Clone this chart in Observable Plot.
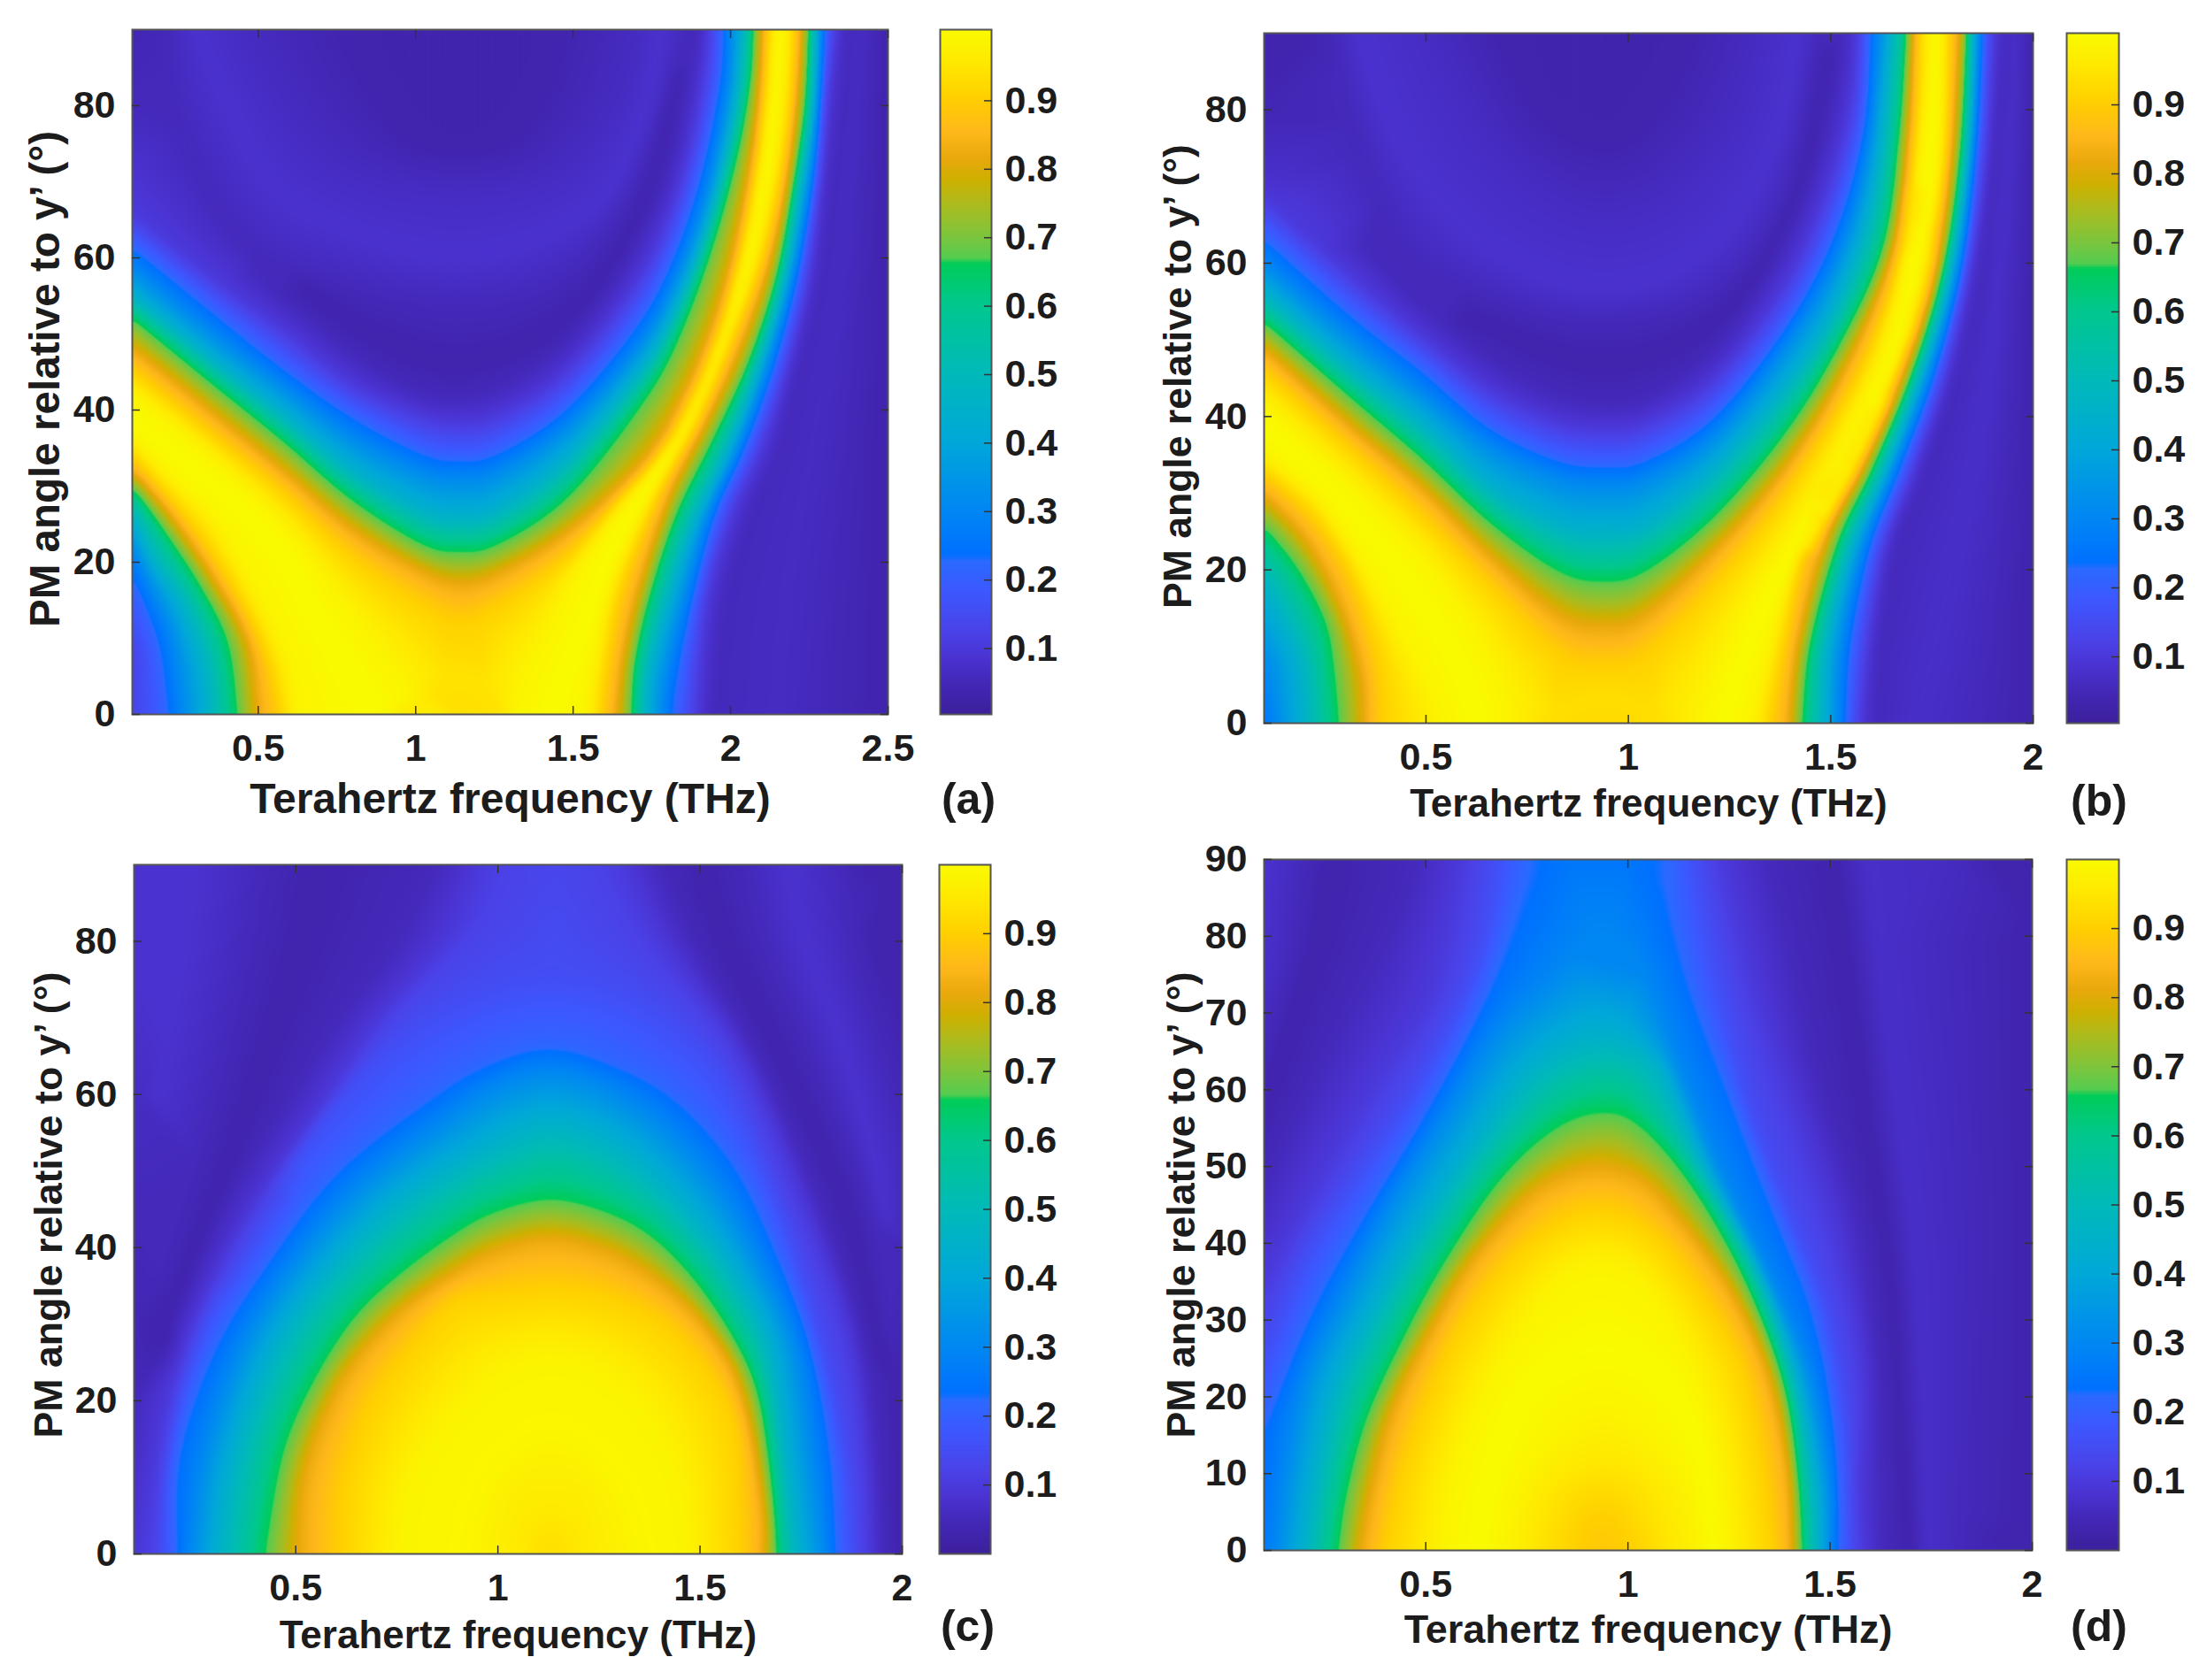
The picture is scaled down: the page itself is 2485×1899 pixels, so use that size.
<!DOCTYPE html>
<html>
<head>
<meta charset="utf-8">
<script src="https://cdn.jsdelivr.net/npm/d3@7"></script>
<script src="https://cdn.jsdelivr.net/npm/@observablehq/plot@0.6"></script>
<style>
html,body{margin:0;padding:0;background:#fff}
#page{position:relative;width:2485px;height:1899px;overflow:hidden}
#page>svg,#page>figure{position:absolute;margin:0}
</style>
</head>
<body>
<div id="page"></div>
<script>
// Colour bar stops
const colorLevels = [0,.04,.08,.12,.18,.222,.232,.3,.4,.5,.6,.657,.665,.70,.74,.78,.81,.85,.9,.95,1];
const colorValues = ["#3d209c","#4226b4","#4a32d0","#4a42e8","#3c58ff","#2a6aff","#0070ff","#0088f2","#00a8d8","#00bab8","#00c88c","#00cc58","#55cc50","#80c43a","#a8bc20","#cfb000","#e8a80c","#ffb81a","#ffd000","#ffe800","#f9fb00"];
const colorbarTicks = [.1,.2,.3,.4,.5,.6,.7,.8,.9];
const xTicksA = [.5,1,1.5,2,2.5];
const xTicksB = [.5,1,1.5,2];
const yTicks20 = [0,20,40,60,80];
const yTicks10 = [0,10,20,30,40,50,60,70,80,90];

// Iso-level traces: [level, [frequency, angle, frequency, angle, ...]]
const traceA = [
[.1,[.1,65.8,.35,57.3,.58,50.3,.8,43.2,1.03,39,1.14,38.3,1.25,39,1.47,44.6,1.7,56.6,1.81,65.8,1.88,75.6,1.92,84.8,1.93,90]],
[.2,[.1,62.2,.35,53.8,.58,46,.8,39.7,1.03,34.7,1.14,34,1.25,34.7,1.47,40.4,1.7,51.7,1.81,60.1,1.9,71.4,1.96,83.4,1.97,90]],
[.3,[.1,58.7,.35,50.3,.58,43.2,.8,36.5,1.03,31.9,1.14,31.2,1.25,31.9,1.47,37.6,1.7,48.1,1.81,55.9,1.92,67.9,1.99,82,2,90]],
[.45,[.1,55,.35,46.7,.58,39.3,.8,31.9,1.03,26.6,1.14,25.9,1.25,26.6,1.47,33,1.7,44.3,1.81,51.7,1.92,63,2.01,78.4,2.04,90]],
[.65,[.1,52.4,.35,43.9,.58,36.2,.8,28.4,1.03,22.4,1.14,21.7,1.25,22.4,1.47,28.4,1.7,40.4,1.81,48.1,1.92,60.1,2.01,72.8,2.06,83.4,2.07,90]],
[.82,[.1,48.1,.35,39.7,.58,31.9,.8,24.2,1.03,18.5,1.14,17.1,1.25,18.2,1.47,23.5,1.7,31.9,1.81,38.3,1.92,48.1,2.01,60.1,2.08,76.3,2.1,90]],
[.9,[.1,45.3,.35,36.9,.58,29.1,.8,20.6,1.03,14.3,1.14,12.2,1.25,14,1.47,20.3,1.65,28.4,1.81,36.2,1.94,47.4,2.03,60.1,2.1,76.3,2.12,90]],
[.98,[.1,42.5,.35,34,.58,25,.75,16,.9,8,1,2,1.02,0]],
[1,[.1,38.3,.35,30.5,.58,21.4,.69,12.9,.8,5.8,.87,0]],
[.98,[.1,36.5,.22,31,.35,26,.47,17.5,.58,8,.62,0]],
[.98,[1.3,0,1.34,5,1.43,12,1.5,18,1.62,25.5,1.72,30.5,1.83,37,1.94,46.5,2.04,60.4,2.11,78,2.14,90]],
[1,[1.43,0,1.52,9.4,1.61,20,1.7,27,1.81,34,1.92,43.2,2.03,56.6,2.1,69.3,2.13,79.9,2.16,90]],
[.98,[1.55,0,1.57,7,1.62,17,1.73,27.5,1.85,36.2,1.96,46.3,2.06,58,2.13,70,2.165,82,2.18,90]],
[.94,[1,0,1.04,3,1.14,5,1.24,3,1.28,0]],
[.93,[1.14,0]],
[.9,[.1,34,.22,28.4,.35,21.4,.47,12.9,.54,5.8,.57,0]],
[.82,[.1,31.9,.22,26.3,.35,18.5,.47,9.4,.5,0]],
[.65,[.1,29.8,.21,23.5,.32,16.4,.4,9.4,.43,0]],
[.45,[.1,26.3,.17,20,.26,14.3,.33,5.8,.34,0]],
[.3,[.1,22.1,.16,16.4,.22,10.8,.25,3.7,.26,0]],
[.2,[.1,17.1,.14,12.9,.18,7.3,.2,0]],
[.12,[.1,0,.1,8]],
[.9,[2.2,90,2.19,79.9,2.15,69.3,2.09,58.7,1.99,48.1,1.89,38.3,1.77,29.1,1.65,16.4,1.61,7.3,1.59,0]],
[.82,[2.23,90,2.21,79.9,2.18,69.3,2.12,58.7,2.03,48.1,1.92,38.3,1.81,29.1,1.71,16.4,1.66,7.3,1.64,0]],
[.65,[2.25,90,2.24,79.9,2.2,69.3,2.15,57.3,2.06,46,1.94,35.5,1.83,26.3,1.75,16.4,1.7,7.3,1.69,0]],
[.45,[2.27,90,2.26,79.9,2.22,68.6,2.17,57.3,2.09,46,1.99,34.7,1.88,24.9,1.8,15,1.74,5.8,1.73,0]],
[.25,[2.29,90,2.28,79.9,2.26,70,2.2,56.6,2.12,44.6,2.03,34.7,1.94,26.3,1.87,15,1.82,5.8,1.8,0]],
[.1,[2.33,90,2.3,79.9,2.28,70,2.24,56.6,2.17,44.6,2.09,34.7,2,26.3,1.92,15,1.89,0]],
[.05,[2.37,90,2.35,79.9,2.32,70,2.28,56.6,2.21,44.6,2.15,34.7,2.06,26.3,1.98,15,1.94,0]],
[.06,[2.15,0,2.2,20,2.28,40,2.35,60,2.42,90]],
[.03,[2.5,0,2.5,30,2.5,60,2.5,90]],
[.03,[.81,90,.9,82,1,76,1.14,74.5,1.28,76,1.38,82,1.43,90]],
[.06,[.44,90,.6,78,.8,71,1.14,68.9,1.45,71,1.65,80,1.72,90]],
[.08,[.3,90,.5,72,.7,65,1.14,60,1.55,66,1.72,78,1.78,90]],
[.05,[.22,90,.25,78,.45,62,.8,56.5,1.14,54.5,1.45,57,1.68,68,1.86,90]],
[.03,[.65,56,.85,50,1.14,46,1.45,51,1.65,61,1.76,72,1.83,84]],
[.05,[.5,58,.6,54,.9,44.5,1.14,41.5,1.4,46,1.6,55,1.75,66,1.82,74,1.87,84,1.9,90]],
[.04,[.1,90]],[.05,[.1,80]],[.08,[.1,72]]
];

const traceB = [
[.1,[.1,68.4,.32,57.9,.49,50.2,.66,43.2,.83,39,.94,38.3,1.04,39,1.21,44.6,1.39,57.2,1.49,69.1,1.55,80.2,1.57,90]],
[.2,[.1,64.2,.32,53.7,.49,46.7,.66,39,.83,34.8,.94,34.1,1.04,34.8,1.21,40.4,1.39,52.3,1.51,64.9,1.58,78.1,1.59,90]],
[.3,[.1,60,.32,50.2,.49,43.2,.66,36.2,.83,32,.94,31.3,1.04,32,1.21,37.6,1.39,49.5,1.52,61.4,1.59,74.7,1.62,90]],
[.45,[.1,56.1,.32,46,.49,39,.66,30.6,.83,25.7,.94,25,1.04,25.7,1.21,32.7,1.39,43.9,1.52,55.1,1.61,69.8,1.65,90]],
[.65,[.1,52.6,.32,42.5,.49,34.8,.66,26.4,.83,20.1,.94,18.9,1.04,20.1,1.21,27.1,1.39,38.3,1.52,49.5,1.63,62.1,1.67,76.8,1.69,90]],
[.82,[.1,48.8,.32,38.3,.49,30.6,.66,21.5,.83,13.8,.94,12.4,1.04,13.8,1.21,22.2,1.39,33.4,1.54,46.7,1.65,61.4,1.69,76.8,1.7,90]],
[.9,[.1,46,.32,35.5,.49,27.1,.66,18,.83,8.9,.94,7.5,1.04,8.9,1.21,18,1.39,29.9,1.58,46.7,1.68,62.1,1.71,76.8,1.72,90]],
[.98,[.1,42,.32,31,.49,22,.6,14,.68,6,.7,0]],
[1,[.1,38.3,.23,32.7,.37,24.3,.51,14.5,.59,6.9,.63,0]],
[.98,[.1,35,.23,29.5,.32,22.5,.42,13,.5,5,.54,0]],
[.98,[1.18,0,1.21,6,1.3,16,1.4,24.5,1.54,38,1.65,53,1.73,80,1.74,90]],
[1,[1.23,0,1.27,6.9,1.37,18.7,1.47,27.8,1.61,41.1,1.7,54.4,1.75,73.3,1.76,90]],
[.98,[1.31,0,1.34,8,1.41,20.5,1.51,29.5,1.63,42.5,1.72,56,1.77,73,1.78,90]],
[.93,[.8,0,.85,2.5,.94,3.5,1.03,2.5,1.08,0]],
[.92,[.94,0]],
[.9,[1.79,90,1.78,73.3,1.73,58.6,1.65,45.3,1.54,34.1,1.44,24.3,1.39,11.7,1.35,0]],
[.82,[1.82,90,1.8,73.3,1.76,58.6,1.68,45.3,1.58,33.4,1.49,24.3,1.42,10.3,1.4,0]],
[.65,[1.84,90,1.82,73.3,1.78,59.3,1.7,45.3,1.6,32.7,1.52,23.6,1.45,10.3,1.43,0]],
[.45,[1.85,90,1.84,74.7,1.79,57.9,1.72,45.3,1.63,32.7,1.55,22.9,1.49,10.3,1.48,0]],
[.25,[1.87,90,1.85,73.3,1.82,59.3,1.75,45.3,1.66,32.7,1.59,22.9,1.54,10.3,1.53,0]],
[.1,[1.9,90,1.88,73.3,1.84,59.3,1.78,45.3,1.7,32.7,1.63,22.9,1.59,10.3,1.57,0]],
[.05,[1.93,90,1.9,73.3,1.87,59.3,1.81,45.3,1.73,32.7,1.66,22.9,1.62,10.3,1.61,0]],
[.07,[1.71,0,1.82,24.3,1.89,45.3,1.94,73.3,1.96,90]],
[.03,[2,0,2,30,2,60,2,90]],
[.9,[.1,32.7,.23,26.4,.32,18.7,.38,8.2,.39,0]],
[.82,[.1,29.9,.2,24.3,.28,16.6,.34,6.9,.35,0]],
[.65,[.1,25.4,.18,20.1,.25,13.1,.27,6.2,.28,0]],
[.45,[.1,18,.14,13.8,.19,7.5,.2,0]],
[.3,[.1,8.2,.13,0]],
[.25,[.1,0]],
[.03,[.7,90,.8,80,.94,76.4,1.04,80,1.14,90]],
[.06,[.51,90,.65,76,.8,69,.94,66.3,1.1,69,1.26,78,1.33,90]],
[.08,[.33,90,.45,74,.65,62,.94,56.5,1.2,62,1.36,75,1.42,90]],
[.05,[.28,90,.32,78,.45,62,.7,55,.94,53,1.2,56,1.38,68,1.47,90]],
[.03,[.6,53,.94,47,1.25,54,1.42,70,1.49,87]],
[.05,[.35,62,.5,54,.68,46.5,.83,42.5,.94,41.5,1.05,42.5,1.22,49,1.38,62,1.47,74,1.52,85,1.53,90]],
[.03,[.1,90,.18,90]],[.04,[.1,80]],[.07,[.1,72]]
];

const traceC = [
[.96,[1.03,0,1.06,7.1,1.13,7.8,1.2,7.1,1.24,0]],
[.99,[.9,0,.96,10.6,1.13,16.9,1.31,10.6,1.38,0]],
[.98,[.75,0,.78,9.2,.87,16.9,.99,23.2,1.13,26,1.27,23.2,1.38,17.6,1.45,9.2,1.47,0]],
[.93,[1.13,0]],
[.9,[.61,0,.62,9.2,.68,19,.78,26.7,.89,33,.99,34,1.13,34.7,1.27,33.7,1.41,30.2,1.52,23.9,1.59,16.2,1.6,5.7,1.6,0]],
[.82,[.51,0,.52,9.2,.57,17.6,.64,24.6,.76,31.6,.89,36.5,.99,39.3,1.13,41,1.27,39.3,1.38,36.1,1.48,31.6,1.57,25.3,1.62,17.6,1.66,5.7,1.66,0]],
[.65,[.42,0,.43,3.6,.47,14.1,.54,22.5,.64,30.9,.75,36.5,.89,42,.99,44.9,1.13,46.6,1.27,44.9,1.38,41.8,1.48,36.5,1.57,29.5,1.64,21.8,1.67,12.7,1.69,0]],
[.45,[.31,0,.35,12.7,.45,26.7,.59,37.2,.75,45.6,.96,52.5,1.13,56,1.31,52.5,1.48,44,1.6,35,1.67,26.7,1.71,12.7,1.74,0]],
[.3,[.24,0,.27,12.7,.36,26.7,.5,38.6,.66,48.4,.85,56,.99,61,1.13,63,1.27,61,1.41,56,1.55,47.6,1.66,37,1.74,26.7,1.78,12.7,1.81,0]],
[.21,[.2,0,.2,12.7,.29,26.7,.43,38.6,.59,49.8,.8,58.8,.96,64,1.13,66.5,1.31,63.7,1.45,59.5,1.59,51.2,1.69,40,1.78,26.7,1.83,12.7,1.84,0]],
[.15,[.17,0,.18,10,.22,22,.33,38,.48,51,.68,64,.9,72,1.13,75.5,1.36,72,1.56,62,1.7,45,1.8,27,1.86,12,1.88,0]],
[.12,[.15,0,.19,18,.28,32,.43,47,.6,60,.76,72,.95,82,1.03,90]],
[.12,[1.24,90,1.34,80,1.56,66,1.72,46,1.84,28,1.89,12,1.9,0]],
[.13,[1.08,90,1.13,90,1.2,90]],
[.1,[.12,0,.17,16,.25,30,.4,45,.55,57,.7,69,.88,80,.96,90]],
[.1,[1.31,90,1.4,80,1.6,65,1.76,45,1.87,28,1.91,12,1.92,0]],
[.05,[.2,30,.33,45.6,.47,58,.6,69,.75,80,.85,90]],
[.05,[1.4,90,1.48,80,1.64,65,1.8,45,1.9,28,1.94,12,1.95,0]],
[.03,[.55,90,.5,78,.36,55,.24,38,.18,28]],
[.05,[.41,90,.36,75,.27,55,.17,38]],
[.08,[.26,90,.23,78,.16,60]],
[.09,[.1,0]],[.07,[.1,10]],[.05,[.1,20]],[.04,[.1,30]],[.05,[.1,45]],[.06,[.1,60]],[.08,[.1,75,.1,90]],
[.03,[1.5,90,1.56,80,1.7,65,1.86,45,1.94,28]],
[.05,[1.62,90,1.66,80,1.78,65,1.92,45,1.97,30]],
[.08,[1.72,90,1.76,80,1.86,65,1.96,45]],
[.05,[1.85,90,1.88,78,1.95,65,2,55]],
[.03,[1.92,90,2,90]],[.03,[1.95,78,2,72]],[.03,[2,0,2,20]],
[.05,[2,40]]
];

const traceD = [
[.65,[.28,0,.3,7.3,.35,17.1,.44,27.5,.54,37.3,.68,48.5,.82,55.4,.94,57.5,1.04,55.4,1.18,46.4,1.3,34.5,1.39,21.3,1.42,8.7,1.43,0]],
[.82,[.34,0,.37,8.7,.42,18.5,.51,28.2,.61,37.3,.75,45.7,.85,48.8,.94,49.5,1.04,47.8,1.16,40.8,1.27,32.4,1.35,22.7,1.4,10.8,1.41,0]],
[.9,[.4,0,.44,10.1,.51,20.6,.59,29.6,.71,38,.83,42.9,.94,44.3,1.06,41.5,1.16,35.2,1.27,25.5,1.32,15.7,1.35,5.2,1.36,0]],
[.98,[.54,0,.56,8.7,.63,19.2,.73,28.2,.83,35.2,.94,37.3,1.04,34.5,1.14,26.2,1.21,15.7,1.24,5.2,1.25,0]],
[1,[.63,0,.68,13.6,.78,22.7,.94,26.2,1.09,22.7,1.18,13.6,1.21,0]],
[.98,[.7,0,.75,10.1,.94,17.8,1.13,10.1,1.18,0]],
[.94,[.78,0,.83,7.3,.94,10.1,1.04,7.3,1.09,0]],
[.9,[.87,0,.9,3.8,.94,5.2,.97,3.8,1.01,0]],
[.88,[.94,0]],
[.45,[.2,0,.23,10.1,.28,21.3,.37,31,.49,42.2,.63,53.3,.76,62.4,.9,66.6,.94,66.6,1,66,1.08,62.4,1.18,50.6,1.32,36.6,1.41,22.7,1.46,8.7,1.47,0]],
[.3,[.13,0,.15,10.1,.2,22.7,.28,31.7,.4,44.3,.54,56.1,.68,68,.82,75,.94,79.9,1.04,75,1.13,62.4,1.23,49,1.35,35.2,1.45,22.7,1.5,8.7,1.5,0]],
[.22,[.75,90,.73,85.4,.64,71.5,.49,56.1,.35,43.6,.23,32.4,.13,19.9,.1,15.7]],
[.22,[1.1,90,1.11,84,1.16,72.9,1.27,57.5,1.37,43.6,1.46,31,1.51,15.7,1.52,0]],
[.25,[.85,90,.94,90,1,90]],
[.26,[.1,0]],[.24,[.1,8]],
[.15,[.1,25.5,.21,39.4,.35,50.6,.49,61.7,.63,77.1,.67,90]],
[.15,[1.17,90,1.21,78.5,1.3,57.5,1.4,43.6,1.49,31,1.54,15.7,1.55,0]],
[.1,[.1,34.5,.23,47.1,.38,61,.51,71.5,.57,84,.59,90]],
[.1,[1.23,90,1.27,81.2,1.33,69.4,1.42,56.1,1.52,39.4,1.58,22.7,1.57,8.7,1.58,0]],
[.05,[.1,47.8,.2,58.9,.32,71.5,.44,84,.47,90]],
[.05,[1.35,90,1.4,78.5,1.47,61,1.57,43.6,1.62,22.7,1.63,0]],
[.03,[.26,90,.23,79.9,.14,64.5,.1,57.7]],
[.03,[1.51,90,1.54,78.5,1.59,57.5,1.65,36.6,1.68,15.7,1.7,0]],
[.07,[1.59,90,1.65,64.5,1.71,36.6,1.74,0]],
[.08,[.1,90]],[.07,[.1,75]],
[.06,[1.78,90]],[.05,[1.85,40,1.82,0]],
[.03,[1.92,90,2,90,2,45,2,0,1.93,0]]
];

const names = ["(a)","(b)","(c)","(d)"];
const xLabel = "Terahertz frequency (THz)";
const yLabel = "PM angle relative to y\u2019 (\u00b0)";

const colorScale = {type:"linear", domain:colorLevels, range:colorValues, clamp:true};
const FONT = "'Liberation Sans', Arial, sans-serif";

function samples(trace){
  const out = [];
  trace.forEach(([level, pts], t) => {
    for (let i = 0; i < pts.length; i += 2) out.push({f:pts[i], a:pts[i+1], v:level, t});
  });
  return out;
}

// Field reconstruction for the raster: an iso-level trace stays on its own level
// between its read points, so the triangulation is kept from cutting across traces.
function isoField(rows, blur){
  return (index, width, height, X, Y, V) => {
    const xs = [], ys = [], vs = [];
    const step = 10;
    const byTrace = d3.groups(Array.from(index), i => rows[i].t);
    for (const [, ids] of byTrace) {
      for (let k = 0; k < ids.length; k++) {
        const i1 = ids[k];
        xs.push(X[i1]); ys.push(Y[i1]); vs.push(V[i1]);
        if (k === ids.length - 1) break;
        const i0 = ids[Math.max(k-1,0)], i2 = ids[k+1], i3 = ids[Math.min(k+2,ids.length-1)];
        const d = Math.hypot(X[i2]-X[i1], Y[i2]-Y[i1]);
        const n = Math.floor(d/step);
        for (let j = 1; j < n; j++) {
          const s = j/n, s2 = s*s, s3 = s2*s;
          const cr = (a,b,c,e) => .5*(2*b + (c-a)*s + (2*a-5*b+4*c-e)*s2 + (3*b-a-3*c+e)*s3);
          xs.push(cr(X[i0],X[i1],X[i2],X[i3]));
          ys.push(cr(Y[i0],Y[i1],Y[i2],Y[i3]));
          vs.push(V[i1]);
        }
      }
    }
    const out = Plot.interpolatorBarycentric()(d3.range(xs.length), width, height, Float64Array.from(xs), Float64Array.from(ys), Float64Array.from(vs));
    if (blur > 0 && d3.blur2) d3.blur2({data:out, width, height}, blur);
    return out;
  };
}

function place(svg, left, top){
  svg.style.left = left + "px";
  svg.style.top = top + "px";
  document.getElementById("page").appendChild(svg);
}

const tickStyle = {stroke:"#333", strokeWidth:1.5, fontSize:43, fontWeight:"bold", color:"#1c1c1c", fill:"#1c1c1c", tickSize:-9, label:null};

function heat(o){
  const ml = 140, mt = 6, mb = 130, mr = 40;
  const w = o.x1 - o.x0, h = o.y1 - o.y0;
  const rows = samples(o.trace);
  const svg = Plot.plot({
    width:w+ml+mr, height:h+mt+mb,
    marginLeft:ml, marginRight:mr, marginTop:mt, marginBottom:mb,
    style:{background:"transparent", fontFamily:FONT, overflow:"visible"},
    x:{domain:o.xd, axis:null}, y:{domain:[0,90], axis:null},
    color:colorScale,
    marks:[
      Plot.raster(rows, {x:"f", y:"a", fill:"v", interpolate:isoField(rows, 5), x1:o.xd[0], x2:o.xd[1], y1:0, y2:90}),
      Plot.frame({stroke:"#555", strokeWidth:2}),
      Plot.axisX({...tickStyle, anchor:"bottom", ticks:o.xt, tickFormat:d=>String(d), tickPadding:o.xpad+9}),
      Plot.axisX({...tickStyle, anchor:"top", ticks:o.xt, tickFormat:()=>"", tickPadding:0}),
      Plot.axisY({...tickStyle, anchor:"left", ticks:o.yt, tickFormat:d=>String(d), tickPadding:28}),
      Plot.axisY({...tickStyle, anchor:"right", ticks:o.yt, tickFormat:()=>"", tickPadding:0}),
      Plot.text([xLabel], {text:d=>d, frameAnchor:"bottom", lineAnchor:"middle", dy:o.xly, dx:o.xlx||0, fontSize:o.xfs, fontWeight:"bold", fill:"#1c1c1c"}),
      Plot.text([yLabel], {text:d=>d, frameAnchor:"left", textAnchor:"middle", lineAnchor:"middle", rotate:-90, dx:o.ylx, dy:o.yly, fontSize:o.yfs, fontWeight:"bold", fill:"#1c1c1c"})
    ]
  });
  place(svg, o.x0-ml, o.y0-mt);
}

function bar(o){
  const ml = 6, mt = 6, mb = 130, mr = 100;
  const w = o.x1 - o.x0, h = o.y1 - o.y0;
  const ramp = d3.range(0, 1, .002);
  const svg = Plot.plot({
    width:w+ml+mr, height:h+mt+mb,
    marginLeft:ml, marginRight:mr, marginTop:mt, marginBottom:mb,
    style:{background:"transparent", fontFamily:FONT, overflow:"visible"},
    x:{domain:[0,1], axis:null}, y:{domain:[0,1], axis:null},
    color:colorScale,
    marks:[
      Plot.rect(ramp, {x1:0, x2:1, y1:d=>d, y2:d=>d+.0025, fill:d=>d, shapeRendering:"crispEdges"}),
      Plot.frame({stroke:"#555", strokeWidth:2}),
      Plot.axisY({...tickStyle, anchor:"right", ticks:colorbarTicks, tickFormat:d=>d.toFixed(1), tickPadding:24, dy:o.tdy||0}),
      Plot.text([o.name], {text:d=>d, frameAnchor:"bottom", lineAnchor:"middle", dy:o.ny, dx:o.nx, fontSize:50, fontWeight:"bold", fill:"#1c1c1c"})
    ]
  });
  place(svg, o.x0-ml, o.y0-mt);
}

heat({trace:traceA, x0:149, x1:1003, y0:33, y1:807, xd:[.1,2.5], xt:xTicksA, yt:yTicks20, xpad:22, xly:96, xfs:48, ylx:-98, yly:8, yfs:47.6});
heat({trace:traceB, x0:1428, x1:2297, y0:37, y1:817, xd:[.1,2], xt:xTicksB, yt:yTicks20, xpad:22, xly:91, xfs:44, ylx:-97, yly:-2, yfs:44.5});
heat({trace:traceC, x0:151, x1:1019, y0:977, y1:1756, xd:[.1,2], xt:xTicksB, yt:yTicks20, xpad:22, xly:92, xfs:44, ylx:-96, yly:-5, yfs:44.7});
heat({trace:traceD, x0:1428, x1:2296, y0:971, y1:1752, xd:[.1,2], xt:xTicksB, yt:yTicks10, xpad:22, xly:90, xfs:45, ylx:-93, yly:0, yfs:44.7});

bar({name:names[0], x0:1062, x1:1120, y0:33, y1:807, ny:96, nx:3, tdy:3});
bar({name:names[1], x0:2335, x1:2394, y0:37, y1:817, ny:88, nx:7, tdy:3});
bar({name:names[2], x0:1061, x1:1119, y0:977, y1:1756, ny:82, nx:3});
bar({name:names[3], x0:2335, x1:2394, y0:971, y1:1752, ny:86, nx:7});
</script>
</body>
</html>
